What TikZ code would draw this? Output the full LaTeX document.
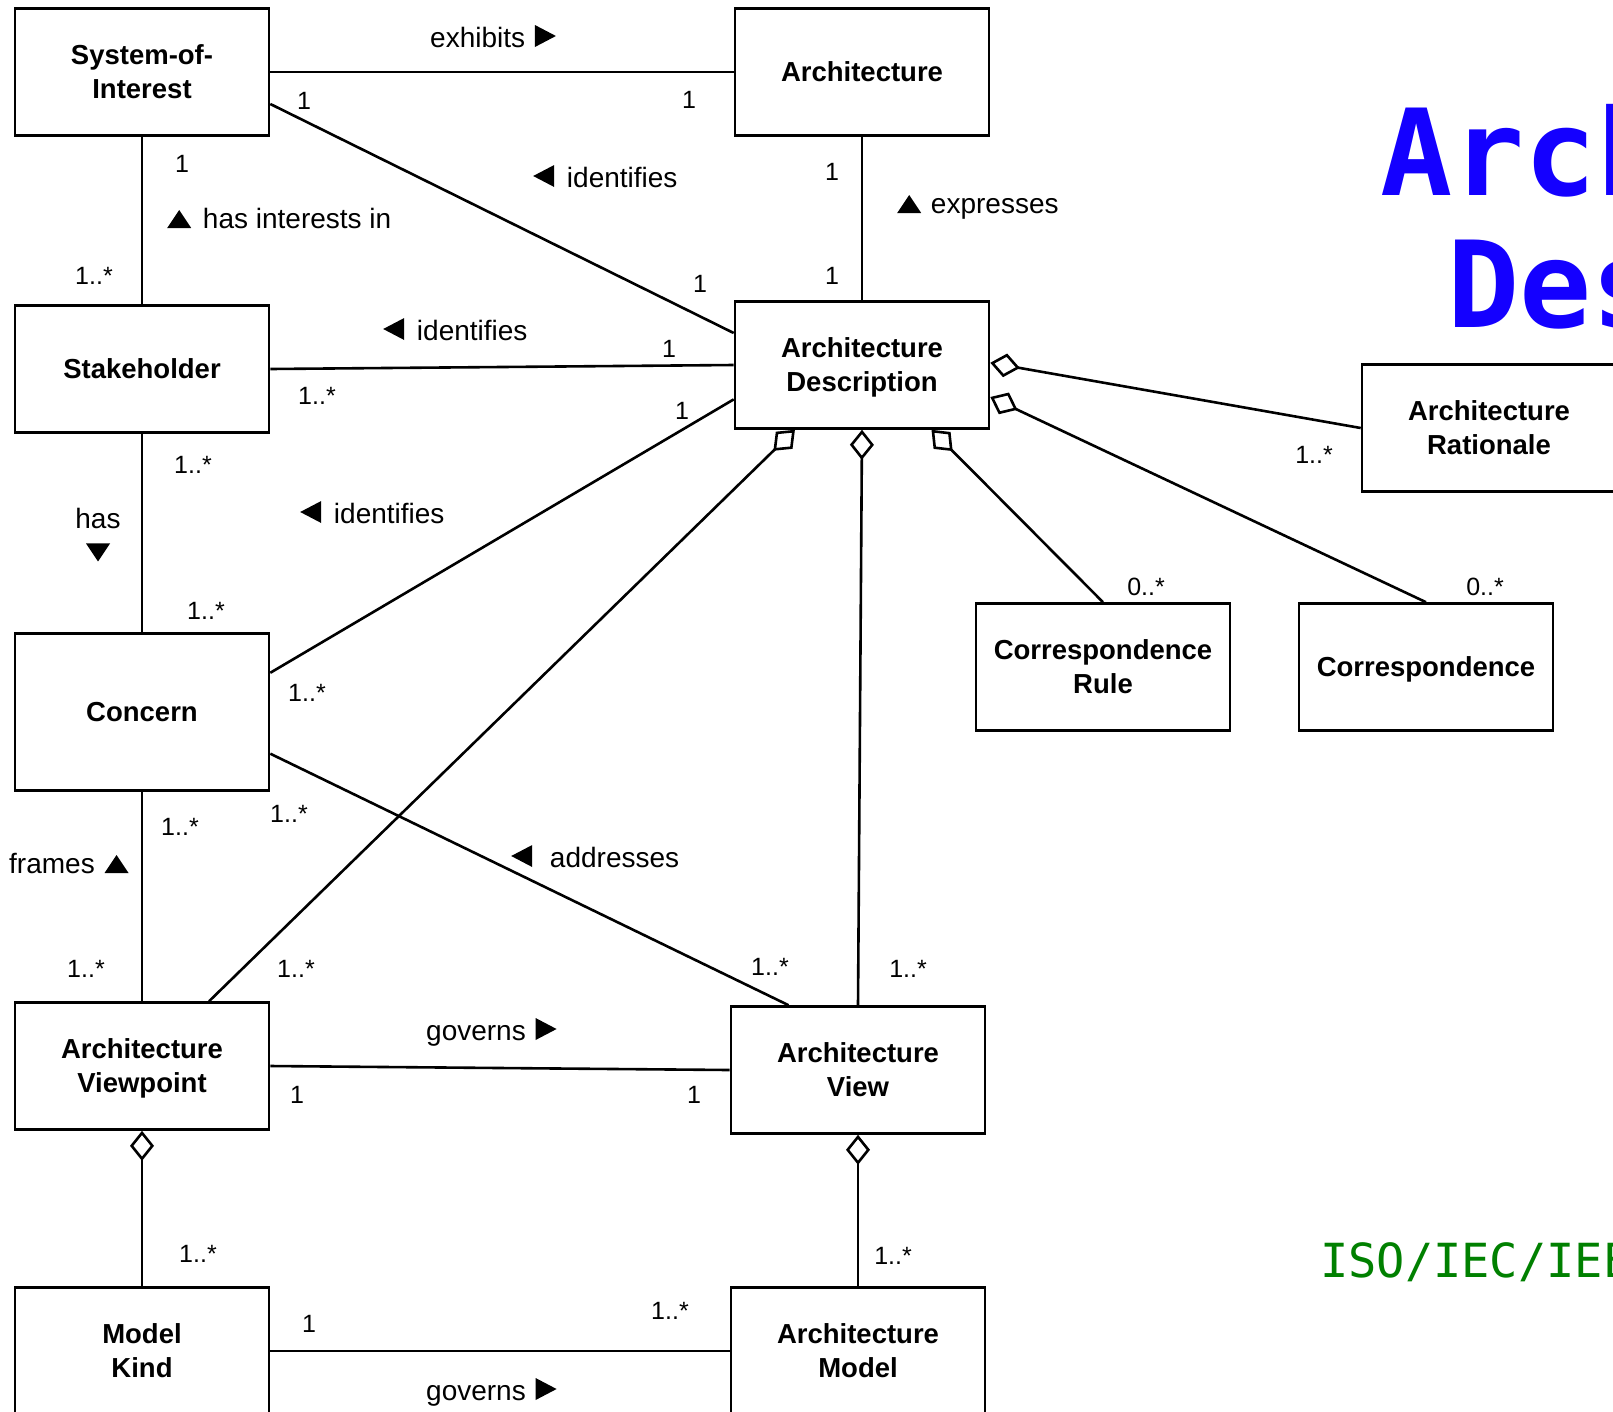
\documentclass[tikz,border=0pt]{standalone}
\usepackage{fontspec}
\setmainfont{Liberation Sans}
\newfontfamily\monofont{DejaVu Sans Mono}
\usetikzlibrary{arrows.meta}
\usepackage{xcolor}
\definecolor{titleblue}{RGB}{20,0,255}
\definecolor{isogreen}{RGB}{0,128,0}

% small filled direction triangles for the role names
\newcommand{\trileft}{\tikz[baseline=0pt]\fill (0pt,11pt) -- (21pt,0pt) -- (21pt,22pt) -- cycle;}
\newcommand{\triright}{\tikz[baseline=0pt]\fill (0pt,0pt) -- (21pt,11pt) -- (0pt,22pt) -- cycle;}
\newcommand{\triup}{\tikz[baseline=0pt]\fill (0pt,0pt) -- (24pt,0pt) -- (12pt,18pt) -- cycle;}
\newcommand{\tridown}{\tikz[baseline=0pt]\fill (0pt,18pt) -- (24pt,18pt) -- (12pt,0pt) -- cycle;}

\begin{document}
\begin{tikzpicture}[x=1pt, y=-1pt,
	classbox/.style={draw, line width=2.6pt, minimum width=254pt, minimum height=127pt,
		inner sep=0pt, text depth=-6pt, align=center, font=\fontsize{27.5}{34}\selectfont\bfseries},
	mult/.style={anchor=base, inner sep=0pt, font=\fontsize{25}{30}\selectfont},
	rel/.style={anchor=base west, inner sep=0pt, font=\fontsize{28}{33}\selectfont},
	assoc/.style={line width=2.6pt},
	agg/.style={line width=2.6pt, -{Diamond[open, length=30pt, width=24pt]}}]
	\fill[white] (0,0) rectangle (1613,1411);
	\useasboundingbox (0,0) rectangle (1613,1411);
	\clip (0,0) rectangle (1613,1411);
	%Title
	\node[anchor=base west, inner sep=0pt, text=titleblue, font=\monofont\bfseries\fontsize{120}{130}\selectfont] (title1) at (1380,195) {Architecture};
	\node[anchor=base west, inner sep=0pt, text=titleblue, font=\monofont\bfseries\fontsize{120}{130}\selectfont] (title2) at (1447,327) {Description};
	\node[anchor=base west, inner sep=0pt, text=isogreen, font=\monofont\fontsize{47}{54}\selectfont] (iso) at (1320,1277) {ISO/IEC/IEEE 42010};
	% Classes
	\node[classbox] (soi) at (142,72) {System-of-\\Interest};
	\node[classbox] (arch) at (862,72) {Architecture};
	\node[classbox] (stake) at (142,369) {Stakeholder};
	\node[classbox] (ad) at (862,365) {Architecture\\Description};
	\node[classbox, minimum height=157pt] (concern) at (142,712) {Concern};
	\node[classbox] (avp) at (142,1066) {Architecture\\Viewpoint};
	\node[classbox] (av) at (858,1070) {Architecture\\View};
	\node[classbox] (mk) at (142,1351) {Model\\Kind};
	\node[classbox] (am) at (858,1351) {Architecture\\Model};
	\node[classbox] (ar) at (1489,428) {Architecture\\Rationale};
	\node[classbox] (cr) at (1103,667) {Correspondence\\Rule};
	\node[classbox] (corr) at (1426,667) {Correspondence};
	% Associations
	\draw[assoc] (soi) -- (arch);
	\draw[assoc] (soi) -- (stake);
	\draw[assoc] (stake) -- (concern);
	\draw[assoc] (concern) -- (avp);
	\draw[assoc] (arch) -- (ad);
	\draw[assoc] (soi.-14) -- (ad.166);
	\draw[assoc] (stake.east) -- (ad.west);
	\draw[assoc] (concern.17) -- (ad.-165);
	\draw[assoc] (concern.-18) -- (av.137);
	\draw[assoc] (avp.east) -- (av.west);
	\draw[assoc] (mk) -- (am);
	% Aggregations
	\draw[agg] (avp.44) -- (ad.-136);
	\draw[agg] (av.north) -- (ad.south);
	\draw[agg] (cr.north) -- (ad.-43.5);
	\draw[agg] (ar.west) -- (ad.1.5);
	\draw[agg] (corr.north) -- (ad.-14.6);
	\draw[agg] (mk.north) -- (avp.south);
	\draw[agg] (am.north) -- (av.south);
	% Role names
	\node[rel] (lexh) at (430,47) {exhibits\hspace{2pt} \triright};
	\node[rel] (lid1) at (533,187) {\trileft\hspace{5pt} identifies};
	\node[rel] (lint) at (167,228) {\triup\hspace{4pt} has interests in};
	\node[rel] (lexp) at (897,213) {\triup\hspace{2pt} expresses};
	\node[rel] (lid2) at (383,340) {\trileft\hspace{5pt} identifies};
	\node[rel] (lid3) at (300,523) {\trileft\hspace{5pt} identifies};
	\node[rel, anchor=north, align=center] (lhas) at (98,508) {has\\\tridown};
	\node[rel] (ladd) at (511,867) {\trileft\hspace{10pt} addresses};
	\node[rel] (lfra) at (9,873) {frames\hspace{2pt} \triup};
	\node[rel] (lgov1) at (426,1040) {governs\hspace{2pt} \triright};
	\node[rel] (lgov2) at (426,1400) {governs\hspace{2pt} \triright};
	% Multiplicities
	\node[mult] (m1) at (182,172) {1};
	\node[mult] (m2) at (304,109) {1};
	\node[mult] (m3) at (689,108) {1};
	\node[mult] (m4) at (832,180) {1};
	\node[mult] (m5) at (832,284) {1};
	\node[mult] (m6) at (700,292) {1};
	\node[mult] (m7) at (669,357) {1};
	\node[mult] (m8) at (682,419) {1};
	\node[mult] (m9) at (94,284) {1..*};
	\node[mult] (m10) at (317,404) {1..*};
	\node[mult] (m11) at (193,473) {1..*};
	\node[mult] (m12) at (206,619) {1..*};
	\node[mult] (m13) at (307,701) {1..*};
	\node[mult] (m14) at (289,822) {1..*};
	\node[mult] (m15) at (180,835) {1..*};
	\node[mult] (m16) at (86,977) {1..*};
	\node[mult] (m17) at (296,977) {1..*};
	\node[mult] (m18) at (770,975) {1..*};
	\node[mult] (m19) at (908,977) {1..*};
	\node[mult] (m20) at (297,1103) {1};
	\node[mult] (m21) at (694,1103) {1};
	\node[mult] (m22) at (198,1262) {1..*};
	\node[mult] (m23) at (893,1264) {1..*};
	\node[mult] (m24) at (309,1332) {1};
	\node[mult] (m25) at (670,1319) {1..*};
	\node[mult] (m26) at (1314,463) {1..*};
	\node[mult] (m27) at (1146,595) {0..*};
	\node[mult] (m28) at (1485,595) {0..*};
\end{tikzpicture}
\end{document}
